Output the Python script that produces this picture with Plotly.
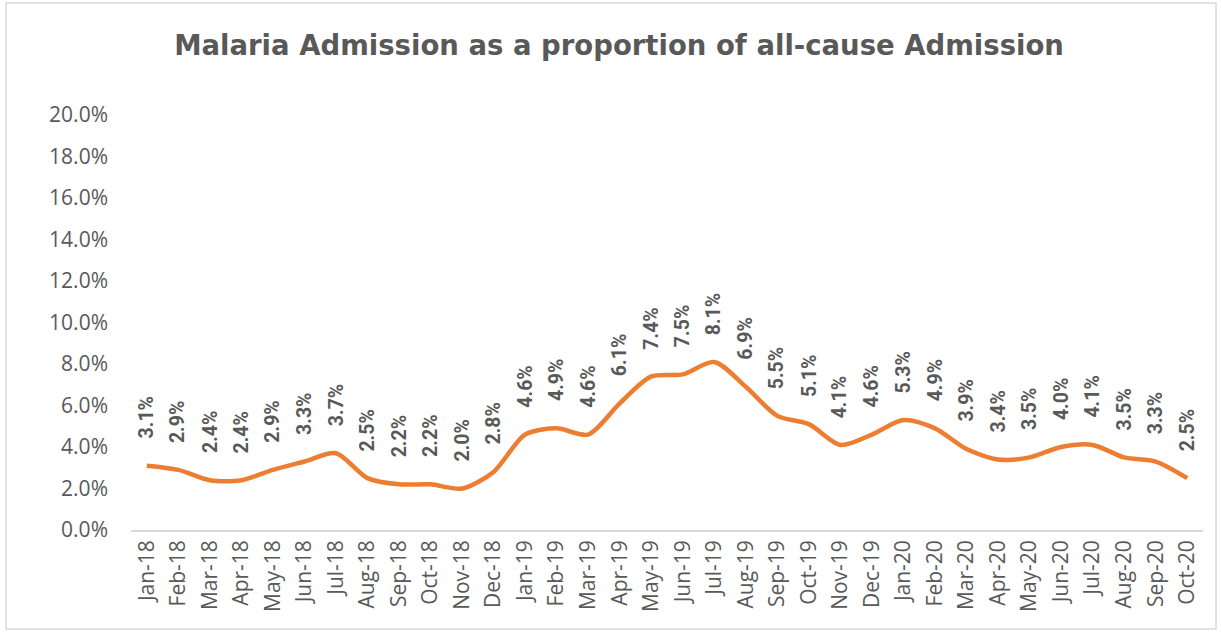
import plotly.graph_objects as go

months = ["Jan-18", "Feb-18", "Mar-18", "Apr-18", "May-18", "Jun-18", "Jul-18", "Aug-18",
          "Sep-18", "Oct-18", "Nov-18", "Dec-18", "Jan-19", "Feb-19", "Mar-19", "Apr-19",
          "May-19", "Jun-19", "Jul-19", "Aug-19", "Sep-19", "Oct-19", "Nov-19", "Dec-19",
          "Jan-20", "Feb-20", "Mar-20", "Apr-20", "May-20", "Jun-20", "Jul-20", "Aug-20",
          "Sep-20", "Oct-20"]
malaria_pct = [3.1, 2.9, 2.4, 2.4, 2.9, 3.3, 3.7, 2.5, 2.2, 2.2, 2.0, 2.8,
               4.6, 4.9, 4.6, 6.1, 7.4, 7.5, 8.1, 6.9, 5.5, 5.1, 4.1, 4.6,
               5.3, 4.9, 3.9, 3.4, 3.5, 4.0, 4.1, 3.5, 3.3, 2.5]
y_ticks = [0, 2, 4, 6, 8, 10, 12, 14, 16, 18, 20]

GREY = "#595959"
ORANGE = "#ED7D31"

fig = go.Figure()
fig.add_trace(go.Scatter(
    x=months, y=malaria_pct, mode="lines",
    line=dict(color=ORANGE, width=4.5, shape="spline", smoothing=0.8),
    hoverinfo="x+y",
))

# Vertical value labels above each point
for m, v in zip(months, malaria_pct):
    fig.add_annotation(
        x=m, y=v, text=f"{v:.1f}%", textangle=-90, showarrow=False,
        yanchor="bottom", yshift=25,
        font=dict(family="Roboto, Liberation Sans, sans-serif", size=19.5,
                  color=GREY, weight="bold"),
    )

# Chart frame
L, R, T, B = 131, 18, 115, 102
W, H = 1221, 632
pw, ph = W - L - R, H - T - B
fig.add_shape(
    type="rect", xref="paper", yref="paper",
    x0=(6 - L) / pw, x1=(1216 - L) / pw,
    y0=(H - B - 629) / ph, y1=(H - B - 3) / ph,
    line=dict(color="#D9D9D9", width=1.5), fillcolor="rgba(0,0,0,0)", layer="below",
)

fig.update_layout(
    width=W, height=H,
    margin=dict(l=L, r=R, t=T, b=B),
    paper_bgcolor="white", plot_bgcolor="white",
    showlegend=False,
    title=dict(
        text="<b>Malaria Admission as a proportion of all-cause Admission</b>",
        x=0.507, xanchor="center", y=1 - 45 / H, yanchor="middle",
        font=dict(family="DejaVu Sans, Lato, sans-serif", size=27.5, color=GREY),
    ),
    xaxis=dict(
        type="category", tickangle=-90, showgrid=False, ticks="",
        showline=True, linecolor="#D9D9D9", linewidth=1.5,
        tickfont=dict(family="Open Sans, Lato, sans-serif", size=21, color=GREY),
        range=[-0.5, len(months) - 0.5],
    ),
    yaxis=dict(
        range=[0, 20], tickvals=y_ticks, ticktext=[f"{t:.1f}%" for t in y_ticks],
        showgrid=False, zeroline=False, showline=False, ticks="",
        tickfont=dict(family="Open Sans, Lato, sans-serif", size=21, color=GREY),
        ticklabelstandoff=22,
    ),
)

fig.write_html("out.html")
